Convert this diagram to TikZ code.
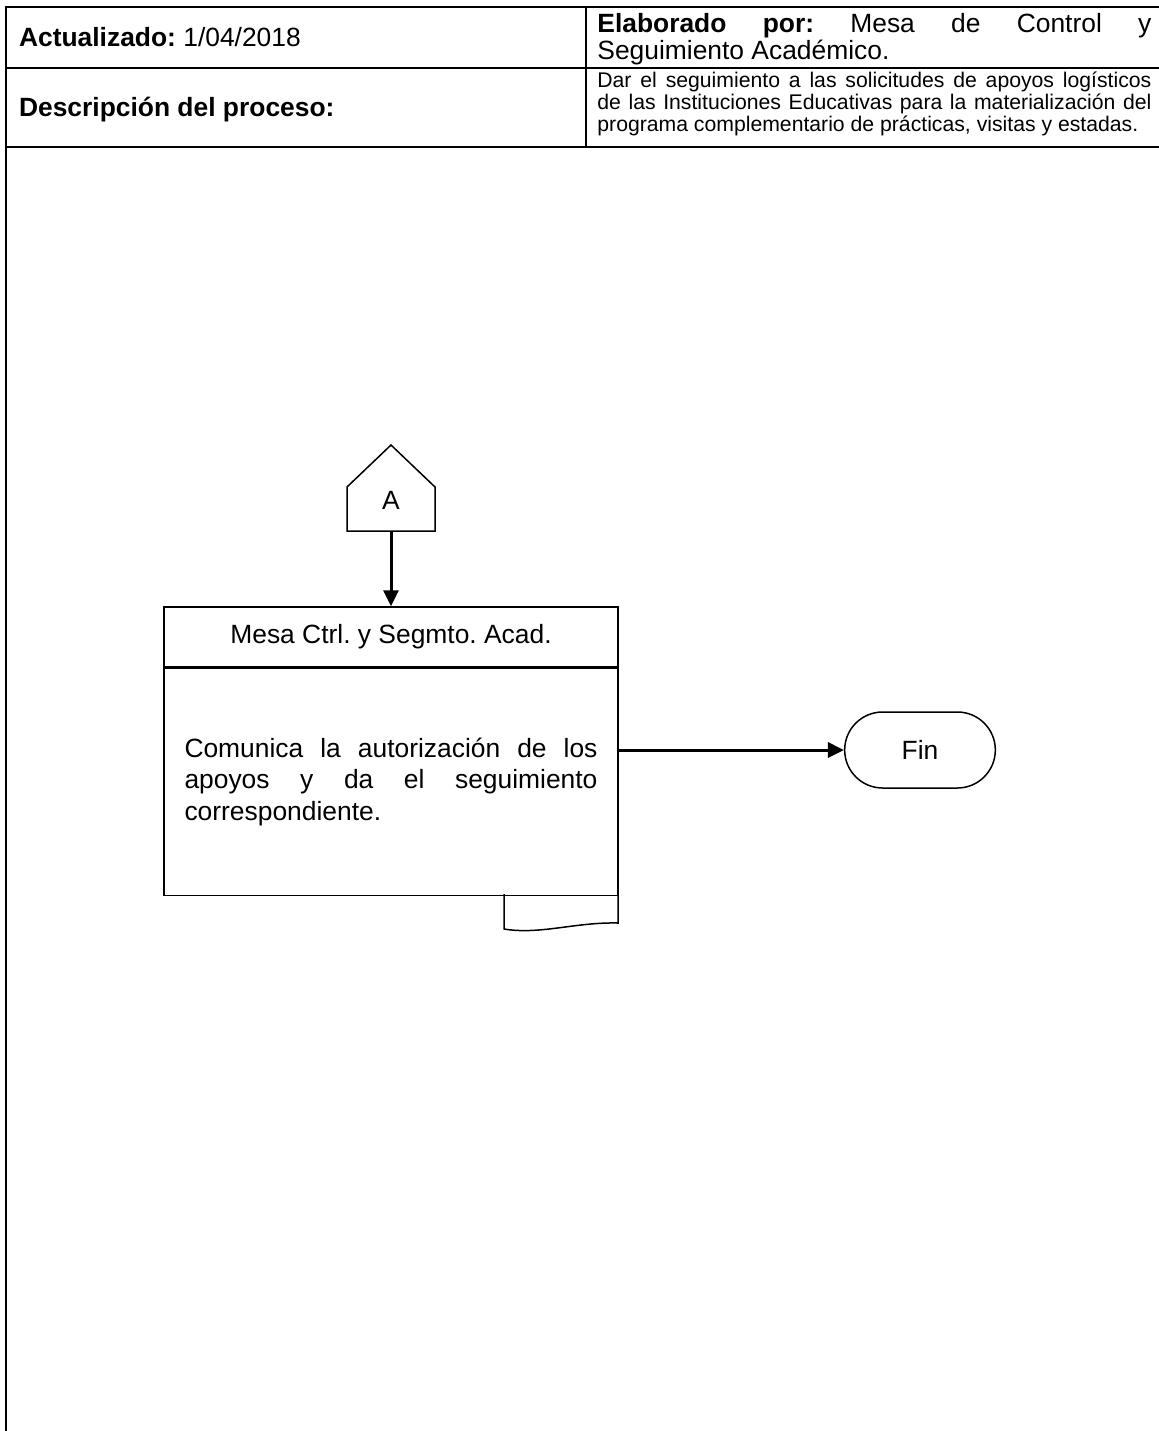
\documentclass[tikz,border=0pt]{standalone}
\usepackage{fontspec}
\setmainfont{Liberation Sans}
\usepackage{tikz}
\usetikzlibrary{shapes,arrows.meta,positioning,calc}
\hyphenpenalty=10000
\exhyphenpenalty=10000
\tolerance=10000
\hbadness=10000
\frenchspacing

\begin{document}
\begin{tikzpicture}[x=0.5pt,y=-0.5pt,
  frame/.style={line width=0.75pt},
  box/.style={draw,line width=0.75pt,minimum width=227pt},
  flow/.style={line width=1.5pt,-{Triangle[length=8pt,width=7.5pt]}},
  every node/.style={font=\fontsize{13.2}{14.5}\selectfont}]
\useasboundingbox (0,0) rectangle (1159,1431);
\draw[frame] (6,1431) -- (6,7) -- (1159,7);
\draw[frame] (6,68) -- (1159,68);
\draw[frame] (6,147) -- (1159,147);
\draw[frame] (586,7) -- (586,147);
\node[anchor=west] (upd) at (12,37) {\textbf{Actualizado:} 1/04/2018};
\node[anchor=west] (desclbl) at (12,110) {\textbf{Descripción del proceso:}};
\node[anchor=north west,inner sep=0pt,text width=277pt,align=justify,
  font=\fontsize{13.2}{11.8}\selectfont] (elab) at (597,13)
  {\textbf{Elaborado por:} Mesa de Control y\linebreak Seguimiento Académico.};
\node[anchor=north west,inner sep=0pt,text width=277pt,align=justify,
  font=\fontsize{10.6}{8.9}\selectfont] (desc) at (597,71)
  {Dar el seguimiento a las solicitudes de apoyos logísticos\linebreak de las Instituciones Educativas para la materialización del\linebreak programa complementario de prácticas, visitas y estadas.};

\node (offA) at (391,500) {A};
\draw[frame] ($(offA)+(-44,31)$) -- ++(0,-44) -- ++(44,-42) -- ++(44,42) -- ++(0,44) -- cycle;
\coordinate (offAbot) at ($(offA)+(0,31)$);

\node[box,minimum height=30pt] (acthead) at (391,637) {Mesa Ctrl. y Segmto. Acad.};
\node[box,minimum height=113.5pt,below=0pt of acthead,text width=206.5pt,align=justify,
  font=\fontsize{13.2}{15.8}\selectfont] (actbody)
  {Comunica la autorización de los\linebreak apoyos y da el seguimiento\linebreak correspondiente.};
\draw[frame] (504,894) -- (504,929) .. controls (540,935) and (575,922) .. (618,923) -- (618,894);

\node[draw,rounded rectangle,line width=0.75pt,minimum width=82pt,minimum height=38pt] (fin) at (920,750) {Fin};

\draw[flow] (offAbot) -- (acthead.north);
\draw[flow] (actbody.east |- fin.west) -- (fin.west);
\end{tikzpicture}
\end{document}
